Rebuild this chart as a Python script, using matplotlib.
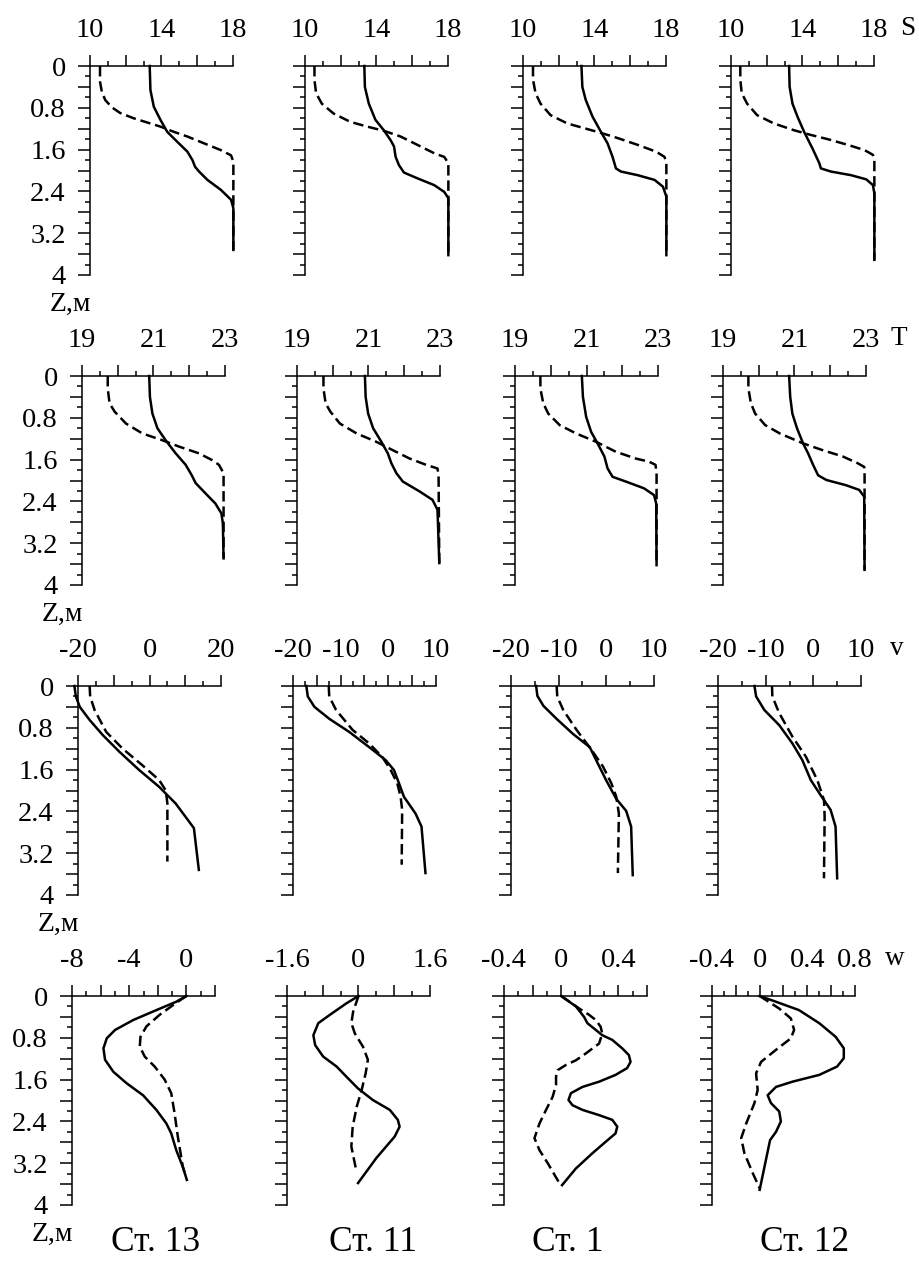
import matplotlib
matplotlib.use("Agg")
import matplotlib.pyplot as plt
import numpy as np
from matplotlib.ticker import FixedLocator, FixedFormatter

plt.rcParams["font.family"] = ["Liberation Serif", "DejaVu Serif"]
plt.rcParams["lines.scale_dashes"] = False
plt.rcParams["axes.unicode_minus"] = False

# profiles as (value, depth Z in m); solid and dashed curve per station
S13_solid = [(13.34, 0), (13.38, 0.46), (13.57, 0.78), (13.94, 1.03), (14.32, 1.26), (14.88, 1.45),
             (15.45, 1.64), (15.73, 1.8), (15.88, 1.93), (16.1, 2.02), (16.57, 2.18), (17.32, 2.37),
             (17.89, 2.56), (18.02, 2.72), (18.02, 3.52)]
S13_dashed = [(10.56, 0), (10.56, 0.3), (10.66, 0.49), (10.85, 0.65), (11.22, 0.79), (11.69, 0.9),
              (12.44, 1.0), (13.19, 1.08), (13.94, 1.16), (14.69, 1.26), (15.45, 1.35), (16.38, 1.48),
              (17.32, 1.61), (17.89, 1.71), (18.02, 1.83), (18.02, 3.52)]
S11_solid = [(13.32, 0), (13.35, 0.4), (13.57, 0.72), (13.94, 1.03), (14.41, 1.23), (14.79, 1.42),
             (14.98, 1.54), (15.07, 1.74), (15.26, 1.9), (15.54, 2.04), (16.29, 2.15), (17.23, 2.28),
             (17.79, 2.41), (18.02, 2.53), (18.02, 3.62)]
S11_dashed = [(10.53, 0), (10.53, 0.27), (10.62, 0.52), (10.94, 0.72), (11.6, 0.91), (12.54, 1.07),
              (13.48, 1.16), (14.41, 1.24), (15.35, 1.35), (16.29, 1.51), (17.23, 1.67), (17.79, 1.74),
              (18.02, 1.86), (18.02, 3.62)]
S1_solid = [(13.27, 0), (13.32, 0.4), (13.51, 0.65), (13.89, 0.97), (14.36, 1.26), (14.73, 1.48),
            (15.01, 1.74), (15.2, 1.96), (15.48, 2.02), (16.42, 2.09), (17.36, 2.18), (17.83, 2.31),
            (18.02, 2.5), (18.02, 3.62)]
S1_dashed = [(10.56, 0), (10.56, 0.26), (10.7, 0.52), (10.98, 0.72), (11.54, 0.94), (12.48, 1.1),
             (13.42, 1.19), (14.36, 1.28), (15.3, 1.38), (16.42, 1.51), (17.45, 1.64), (17.92, 1.74),
             (18.02, 1.86), (18.02, 3.62)]
S12_solid = [(13.25, 0), (13.28, 0.4), (13.44, 0.72), (13.72, 0.97), (14.09, 1.26), (14.56, 1.58),
             (14.94, 1.86), (15.03, 1.96), (15.59, 2.02), (16.72, 2.09), (17.57, 2.17), (17.94, 2.28),
             (18.02, 2.44), (18.02, 3.71)]
S12_dashed = [(10.52, 0), (10.52, 0.26), (10.6, 0.52), (10.9, 0.72), (11.46, 0.94), (12.4, 1.1),
              (13.53, 1.23), (14.47, 1.32), (15.41, 1.4), (16.54, 1.51), (17.47, 1.61), (17.94, 1.7),
              (18.02, 1.8), (18.02, 3.71)]

T13_solid = [(20.88, 0), (20.9, 0.4), (20.97, 0.72), (21.11, 1.0), (21.34, 1.23), (21.62, 1.48),
             (21.9, 1.7), (22.07, 1.9), (22.18, 2.05), (22.46, 2.25), (22.73, 2.44), (22.9, 2.63),
             (22.94, 2.82), (22.96, 3.49)]
T13_dashed = [(19.72, 0), (19.72, 0.24), (19.77, 0.52), (19.91, 0.68), (20.23, 0.91), (20.69, 1.1),
              (21.25, 1.23), (21.71, 1.35), (22.27, 1.48), (22.64, 1.61), (22.83, 1.7), (22.96, 1.86),
              (22.96, 3.49)]
T11_solid = [(20.9, 0), (20.92, 0.4), (20.99, 0.72), (21.13, 1.0), (21.36, 1.26), (21.54, 1.48),
             (21.64, 1.67), (21.78, 1.86), (21.96, 2.02), (22.43, 2.21), (22.79, 2.37), (22.93, 2.56),
             (22.98, 3.58)]
T11_dashed = [(19.74, 0), (19.74, 0.24), (19.8, 0.52), (19.93, 0.68), (20.2, 0.91), (20.67, 1.1),
              (21.22, 1.26), (21.68, 1.42), (22.15, 1.58), (22.61, 1.7), (22.93, 1.77), (22.96, 1.9),
              (22.98, 3.58)]
T1_solid = [(20.87, 0), (20.9, 0.4), (20.99, 0.78), (21.13, 1.07), (21.31, 1.29), (21.5, 1.54),
            (21.59, 1.77), (21.73, 1.93), (22.1, 2.02), (22.61, 2.15), (22.89, 2.28), (22.95, 2.44),
            (22.96, 3.62)]
T1_dashed = [(19.71, 0), (19.71, 0.24), (19.79, 0.52), (19.93, 0.72), (20.25, 0.94), (20.71, 1.1),
             (21.27, 1.26), (21.82, 1.45), (22.38, 1.58), (22.75, 1.64), (22.93, 1.7), (22.96, 1.86),
             (22.96, 3.62)]
T12_solid = [(20.85, 0), (20.88, 0.4), (20.94, 0.72), (21.07, 1.0), (21.24, 1.29), (21.38, 1.48),
             (21.52, 1.7), (21.66, 1.9), (21.89, 1.99), (22.44, 2.09), (22.81, 2.18), (22.95, 2.31),
             (22.96, 3.71)]
T12_dashed = [(19.71, 0), (19.71, 0.24), (19.78, 0.52), (19.9, 0.72), (20.18, 0.94), (20.59, 1.1),
              (21.24, 1.29), (21.79, 1.42), (22.35, 1.54), (22.77, 1.67), (22.95, 1.74), (22.96, 1.86),
              (22.96, 3.71)]

V13_solid = [(-21.0, 0), (-20.6, 0.2), (-19.5, 0.4), (-16.75, 0.65), (-13.06, 0.94), (-8.4, 1.26),
             (-2.86, 1.61), (2.7, 1.93), (7.33, 2.25), (12.42, 2.72), (13.8, 3.52)]
V13_dashed = [(-16.75, 0), (-16.6, 0.2), (-15.36, 0.46), (-12.1, 0.88), (-7.5, 1.2), (-1.94, 1.52),
              (2.7, 1.8), (4.56, 2.0), (5.0, 2.25), (5.0, 3.36)]
V11_solid = [(-17.2, 0), (-16.9, 0.2), (-15.5, 0.4), (-12.35, 0.63), (-8.19, 0.88), (-4.02, 1.17),
             (-0.54, 1.42), (1.19, 1.61), (2.23, 1.86), (3.27, 2.12), (5.7, 2.44), (6.96, 2.69),
             (7.79, 3.58)]
V11_dashed = [(-12.5, 0), (-12.4, 0.2), (-10.96, 0.46), (-7.5, 0.84), (-4.02, 1.1), (-1.25, 1.36),
              (0.5, 1.61), (1.87, 1.86), (2.58, 2.12), (2.9, 2.37), (2.8, 3.42)]
V1_solid = [(-14.73, 0), (-14.46, 0.19), (-13.2, 0.38), (-10.42, 0.63), (-6.96, 0.92), (-3.48, 1.17),
            (-1.75, 1.49), (0.0, 1.81), (2.08, 2.16), (4.16, 2.39), (5.2, 2.69), (5.54, 3.62)]
V1_dashed = [(-10.42, 0), (-10.3, 0.2), (-9.04, 0.46), (-6.25, 0.84), (-3.13, 1.22), (-0.71, 1.54),
             (1.04, 1.86), (2.08, 2.12), (2.63, 2.44), (2.42, 3.58)]
V12_solid = [(-12.35, 0), (-12.0, 0.2), (-10.27, 0.46), (-7.15, 0.75), (-4.38, 1.1), (-2.3, 1.42),
             (-0.54, 1.8), (1.54, 2.09), (3.62, 2.37), (4.66, 2.69), (5.0, 3.68)]
V12_dashed = [(-8.67, 0), (-8.6, 0.2), (-7.15, 0.52), (-4.38, 0.97), (-1.58, 1.35), (0.83, 1.8),
              (2.23, 2.18), (2.37, 2.5), (2.23, 3.68)]

W13_solid = [(0.0, 0), (-0.71, 0.11), (-2.1, 0.27), (-3.72, 0.46), (-4.99, 0.65), (-5.57, 0.81),
             (-5.8, 1.0), (-5.69, 1.22), (-5.11, 1.45), (-4.18, 1.67), (-3.03, 1.9), (-2.1, 2.18),
             (-1.4, 2.44), (-1.06, 2.63), (-0.71, 2.95), (-0.25, 3.27), (0.03, 3.52)]
W13_dashed = [(0.0, 0), (-0.71, 0.13), (-1.87, 0.36), (-2.79, 0.58), (-3.21, 0.78), (-3.26, 0.97),
              (-2.91, 1.16), (-2.22, 1.35), (-1.52, 1.6), (-1.06, 1.86), (-0.83, 2.24), (-0.6, 2.69),
              (-0.25, 3.27), (-0.1, 3.4)]
W11_solid = [(0.0, 0), (-0.27, 0.14), (-0.64, 0.36), (-0.9, 0.52), (-1.01, 0.75), (-0.97, 0.94),
             (-0.79, 1.16), (-0.49, 1.35), (-0.23, 1.58), (-0.01, 1.77), (0.32, 1.99), (0.7, 2.18),
             (0.88, 2.37), (0.92, 2.5), (0.81, 2.69), (0.4, 3.1), (-0.01, 3.58)]
W11_dashed = [(0.0, 0), (-0.12, 0.3), (-0.16, 0.52), (-0.08, 0.72), (0.1, 0.97), (0.21, 1.22),
              (0.16, 1.48), (0.07, 1.8), (-0.04, 2.12), (-0.13, 2.5), (-0.16, 2.88), (-0.06, 3.3)]
W1_solid = [(0.0, 0), (0.103, 0.2), (0.16, 0.4), (0.183, 0.52), (0.242, 0.65), (0.287, 0.75),
            (0.357, 0.84), (0.426, 1.0), (0.473, 1.13), (0.485, 1.26), (0.461, 1.38), (0.38, 1.51),
            (0.265, 1.64), (0.149, 1.74), (0.068, 1.86), (0.051, 1.99), (0.079, 2.09), (0.149, 2.18),
            (0.265, 2.28), (0.357, 2.37), (0.392, 2.5), (0.38, 2.63), (0.311, 2.79), (0.218, 3.01),
            (0.103, 3.3), (0.006, 3.62)]
W1_dashed = [(0.0, 0), (0.137, 0.26), (0.195, 0.36), (0.242, 0.46), (0.276, 0.59), (0.287, 0.72),
             (0.265, 0.91), (0.172, 1.1), (0.103, 1.23), (0.033, 1.32), (-0.025, 1.42), (-0.036, 1.54),
             (-0.036, 1.7), (-0.06, 1.93), (-0.106, 2.18), (-0.152, 2.44), (-0.187, 2.72),
             (-0.152, 2.95), (-0.094, 3.2), (-0.013, 3.58)]
W12_solid = [(0.0, 0), (0.137, 0.11), (0.33, 0.27), (0.5, 0.52), (0.637, 0.78), (0.706, 1.0),
             (0.706, 1.19), (0.65, 1.35), (0.5, 1.51), (0.275, 1.64), (0.137, 1.74), (0.067, 1.9),
             (0.095, 2.05), (0.164, 2.21), (0.178, 2.4), (0.137, 2.6), (0.087, 2.76), (0.0, 3.71)]
W12_dashed = [(0.0, 0), (0.164, 0.24), (0.262, 0.43), (0.289, 0.65), (0.262, 0.81), (0.137, 1.03),
              (0.012, 1.26), (-0.03, 1.48), (-0.017, 1.8), (-0.044, 2.05), (-0.113, 2.44),
              (-0.155, 2.72), (-0.128, 3.01), (-0.058, 3.39), (0.0, 3.68)]

STATIONS = ["Ст. 13", "Ст. 11", "Ст. 1", "Ст. 12"]
VARIABLES = ["S", "T", "v", "w"]
PROFILES = [
    [(S13_solid, S13_dashed), (S11_solid, S11_dashed), (S1_solid, S1_dashed), (S12_solid, S12_dashed)],
    [(T13_solid, T13_dashed), (T11_solid, T11_dashed), (T1_solid, T1_dashed), (T12_solid, T12_dashed)],
    [(V13_solid, V13_dashed), (V11_solid, V11_dashed), (V1_solid, V1_dashed), (V12_solid, V12_dashed)],
    [(W13_solid, W13_dashed), (W11_solid, W11_dashed), (W1_solid, W1_dashed), (W12_solid, W12_dashed)],
]

# x axis per panel: (min, max, major step, minor step, labelled values)
XAXES = [
    [(10, 18, 2, 1, [10, 14, 18])] * 4,
    [(19, 23, 1, 0.5, [19, 21, 23])] * 4,
    [(-20, 20, 10, 5, [-20, 0, 20]), (-20, 10, 5, 2.5, [-20, -10, 0, 10]),
     (-20, 10, 10, 5, [-20, -10, 0, 10]), (-20, 10, 10, 5, [-20, -10, 0, 10])],
    [(-8, 2, 2, 1, [-8, -4, 0]), (-1.6, 1.6, 0.8, 0.4, [-1.6, 0, 1.6]),
     (-0.4, 0.6, 0.2, 0.1, [-0.4, 0, 0.4]), (-0.4, 0.8, 0.2, 0.1, [-0.4, 0, 0.4, 0.8])],
]

# layout in pixels (figure 920 x 1261)
W, H = 920, 1261
ROW_TOP = [66, 376, 686, 996]
COL_LEFT = [[90, 305, 523, 731], [82, 297, 515, 723], [78, 293, 511, 718], [72, 287, 504, 712]]
AX_W, AX_H = 143, 209
VAR_X = [908, 899, 897, 895]
STATION_X = [156, 373, 568, 805]


def ticks(lo, hi, step):
    return [round(t, 6) for t in np.arange(lo, hi + step / 2, step)]


def panel(ax, solid, dashed, xspec, show_y):
    lo, hi, major, minor, labelled = xspec
    ax.plot([p[0] for p in solid], [p[1] for p in solid], color="black", lw=1.8,
            clip_on=False, solid_joinstyle="round")
    ax.plot([p[0] for p in dashed], [p[1] for p in dashed], color="black", lw=1.8,
            dashes=(7.5, 3.5), clip_on=False)
    ax.set_xlim(lo, hi)
    ax.set_ylim(4, 0)
    for s in ("right", "bottom"):
        ax.spines[s].set_visible(False)
    for s in ("top", "left"):
        ax.spines[s].set_linewidth(1.1)

    ax.xaxis.tick_top()
    xt = ticks(lo, hi, major)
    ax.xaxis.set_major_locator(FixedLocator(xt))
    ax.xaxis.set_major_formatter(FixedFormatter(
        ["%g" % t if any(abs(t - l) < 1e-6 for l in labelled) else "" for t in xt]))
    ax.xaxis.set_minor_locator(FixedLocator(ticks(lo, hi, minor)))

    yt = ticks(0, 4, 0.4)
    ax.yaxis.set_major_locator(FixedLocator(yt))
    ylab = ["%g" % t if show_y and abs(t / 0.8 - round(t / 0.8)) < 1e-6 else "" for t in yt]
    ax.yaxis.set_major_formatter(FixedFormatter(ylab))
    ax.yaxis.set_minor_locator(FixedLocator(ticks(0, 4, 0.2)))

    ax.tick_params(axis="x", which="major", direction="out", length=8, width=1.1,
                   pad=8.5, labelsize=20.5)
    ax.tick_params(axis="x", which="minor", direction="out", length=3.8, width=1.1)
    ax.tick_params(axis="y", which="major", direction="out", length=8.5, width=1.1,
                   pad=9, labelsize=20.5)
    ax.tick_params(axis="y", which="minor", direction="out", length=3.8, width=1.1)


fig = plt.figure(figsize=(W / 100, H / 100), dpi=100)

for r in range(4):
    top = ROW_TOP[r]
    for c in range(4):
        left = COL_LEFT[r][c]
        ax = fig.add_axes([left / W, 1 - (top + AX_H) / H, AX_W / W, AX_H / H])
        solid, dashed = PROFILES[r][c]
        panel(ax, solid, dashed, XAXES[r][c], c == 0)
    fig.text((COL_LEFT[r][0] - 20) / W, 1 - (top + AX_H + 36) / H, "Z,м",
             ha="center", va="baseline", fontsize=20)
    fig.text(VAR_X[r] / W, 1 - (top - 31) / H, VARIABLES[r],
             ha="center", va="baseline", fontsize=19.5)

for c in range(4):
    fig.text(STATION_X[c] / W, 1 - 1251 / H, STATIONS[c], ha="center", va="baseline", fontsize=25.5)

fig.savefig("out.png", dpi=100)
